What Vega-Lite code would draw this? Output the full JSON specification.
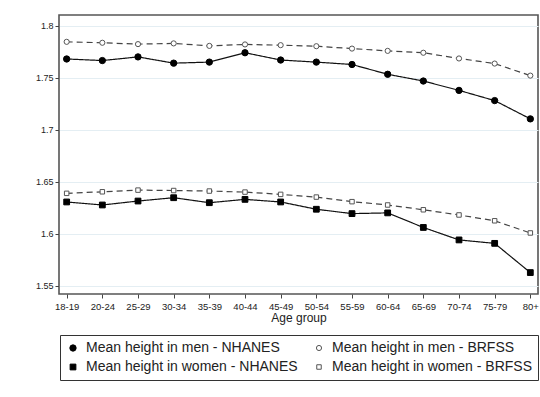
{
  "$schema": "https://vega.github.io/schema/vega-lite/v6.json",
  "width": 479,
  "height": 279,
  "autosize": {"type": "none"},
  "padding": {"left": 59, "top": 15, "right": 2, "bottom": 103},
  "background": "white",
  "config": {
    "font": "Liberation Sans",
    "view": {"stroke": "#555", "strokeWidth": 1.6},
    "axis": {"labelColor": "#222", "titleColor": "#222", "tickColor": "#444", "domain": false}
  },
  "data": {
    "values": [
      {"age": "18-19", "source": "NHANES", "series": "Mean height in men - NHANES", "height": 1.768},
      {"age": "20-24", "source": "NHANES", "series": "Mean height in men - NHANES", "height": 1.7665},
      {"age": "25-29", "source": "NHANES", "series": "Mean height in men - NHANES", "height": 1.770},
      {"age": "30-34", "source": "NHANES", "series": "Mean height in men - NHANES", "height": 1.764},
      {"age": "35-39", "source": "NHANES", "series": "Mean height in men - NHANES", "height": 1.765},
      {"age": "40-44", "source": "NHANES", "series": "Mean height in men - NHANES", "height": 1.774},
      {"age": "45-49", "source": "NHANES", "series": "Mean height in men - NHANES", "height": 1.767},
      {"age": "50-54", "source": "NHANES", "series": "Mean height in men - NHANES", "height": 1.765},
      {"age": "55-59", "source": "NHANES", "series": "Mean height in men - NHANES", "height": 1.7627},
      {"age": "60-64", "source": "NHANES", "series": "Mean height in men - NHANES", "height": 1.7533},
      {"age": "65-69", "source": "NHANES", "series": "Mean height in men - NHANES", "height": 1.7468},
      {"age": "70-74", "source": "NHANES", "series": "Mean height in men - NHANES", "height": 1.7378},
      {"age": "75-79", "source": "NHANES", "series": "Mean height in men - NHANES", "height": 1.728},
      {"age": "80+", "source": "NHANES", "series": "Mean height in men - NHANES", "height": 1.7104},
      {"age": "18-19", "source": "BRFSS", "series": "Mean height in men - BRFSS", "height": 1.7845},
      {"age": "20-24", "source": "BRFSS", "series": "Mean height in men - BRFSS", "height": 1.7836},
      {"age": "25-29", "source": "BRFSS", "series": "Mean height in men - BRFSS", "height": 1.7823},
      {"age": "30-34", "source": "BRFSS", "series": "Mean height in men - BRFSS", "height": 1.783},
      {"age": "35-39", "source": "BRFSS", "series": "Mean height in men - BRFSS", "height": 1.7806},
      {"age": "40-44", "source": "BRFSS", "series": "Mean height in men - BRFSS", "height": 1.782},
      {"age": "45-49", "source": "BRFSS", "series": "Mean height in men - BRFSS", "height": 1.7813},
      {"age": "50-54", "source": "BRFSS", "series": "Mean height in men - BRFSS", "height": 1.7803},
      {"age": "55-59", "source": "BRFSS", "series": "Mean height in men - BRFSS", "height": 1.778},
      {"age": "60-64", "source": "BRFSS", "series": "Mean height in men - BRFSS", "height": 1.7758},
      {"age": "65-69", "source": "BRFSS", "series": "Mean height in men - BRFSS", "height": 1.774},
      {"age": "70-74", "source": "BRFSS", "series": "Mean height in men - BRFSS", "height": 1.7685},
      {"age": "75-79", "source": "BRFSS", "series": "Mean height in men - BRFSS", "height": 1.7636},
      {"age": "80+", "source": "BRFSS", "series": "Mean height in men - BRFSS", "height": 1.752},
      {"age": "18-19", "source": "NHANES", "series": "Mean height in women - NHANES", "height": 1.6305},
      {"age": "20-24", "source": "NHANES", "series": "Mean height in women - NHANES", "height": 1.6276},
      {"age": "25-29", "source": "NHANES", "series": "Mean height in women - NHANES", "height": 1.6314},
      {"age": "30-34", "source": "NHANES", "series": "Mean height in women - NHANES", "height": 1.6346},
      {"age": "35-39", "source": "NHANES", "series": "Mean height in women - NHANES", "height": 1.6298},
      {"age": "40-44", "source": "NHANES", "series": "Mean height in women - NHANES", "height": 1.633},
      {"age": "45-49", "source": "NHANES", "series": "Mean height in women - NHANES", "height": 1.6305},
      {"age": "50-54", "source": "NHANES", "series": "Mean height in women - NHANES", "height": 1.6235},
      {"age": "55-59", "source": "NHANES", "series": "Mean height in women - NHANES", "height": 1.6193},
      {"age": "60-64", "source": "NHANES", "series": "Mean height in women - NHANES", "height": 1.620},
      {"age": "65-69", "source": "NHANES", "series": "Mean height in women - NHANES", "height": 1.606},
      {"age": "70-74", "source": "NHANES", "series": "Mean height in women - NHANES", "height": 1.594},
      {"age": "75-79", "source": "NHANES", "series": "Mean height in women - NHANES", "height": 1.5907},
      {"age": "80+", "source": "NHANES", "series": "Mean height in women - NHANES", "height": 1.5626},
      {"age": "18-19", "source": "BRFSS", "series": "Mean height in women - BRFSS", "height": 1.6388},
      {"age": "20-24", "source": "BRFSS", "series": "Mean height in women - BRFSS", "height": 1.6403},
      {"age": "25-29", "source": "BRFSS", "series": "Mean height in women - BRFSS", "height": 1.6419},
      {"age": "30-34", "source": "BRFSS", "series": "Mean height in women - BRFSS", "height": 1.6415},
      {"age": "35-39", "source": "BRFSS", "series": "Mean height in women - BRFSS", "height": 1.641},
      {"age": "40-44", "source": "BRFSS", "series": "Mean height in women - BRFSS", "height": 1.640},
      {"age": "45-49", "source": "BRFSS", "series": "Mean height in women - BRFSS", "height": 1.6378},
      {"age": "50-54", "source": "BRFSS", "series": "Mean height in women - BRFSS", "height": 1.6352},
      {"age": "55-59", "source": "BRFSS", "series": "Mean height in women - BRFSS", "height": 1.6308},
      {"age": "60-64", "source": "BRFSS", "series": "Mean height in women - BRFSS", "height": 1.6276},
      {"age": "65-69", "source": "BRFSS", "series": "Mean height in women - BRFSS", "height": 1.623},
      {"age": "70-74", "source": "BRFSS", "series": "Mean height in women - BRFSS", "height": 1.618},
      {"age": "75-79", "source": "BRFSS", "series": "Mean height in women - BRFSS", "height": 1.6124},
      {"age": "80+", "source": "BRFSS", "series": "Mean height in women - BRFSS", "height": 1.6007}
    ]
  },
  "encoding": {
    "x": {
      "field": "age", "type": "ordinal", "sort": null,
      "scale": {"type": "point", "padding": 0.215},
      "axis": {"title": "Age group", "labelAngle": 0, "labelFontSize": 9.5, "titleFontSize": 12, "titleFontWeight": "normal", "titlePadding": 2, "tickSize": 4, "labelPadding": 3, "grid": false}
    },
    "y": {
      "field": "height", "type": "quantitative",
      "scale": {"domain": [1.542, 1.8103], "nice": false, "zero": false},
      "axis": {"title": null, "values": [1.55, 1.6, 1.65, 1.7, 1.75, 1.8], "format": "~g", "labelFontSize": 9, "tickSize": 4, "labelPadding": 2, "grid": true, "gridColor": "#e4eef3", "gridWidth": 1}
    }
  },
  "layer": [
    {
      "mark": {"type": "line", "strokeWidth": 1.2},
      "encoding": {
        "detail": {"field": "series"},
        "color": {
          "field": "source", "legend": null,
          "scale": {"domain": ["NHANES", "BRFSS"], "range": ["#111111", "#444444"]}
        },
        "strokeDash": {
          "field": "source", "legend": null,
          "scale": {"domain": ["NHANES", "BRFSS"], "range": [[1, 0], [6, 4]]}
        }
      }
    },
    {
      "mark": {"type": "point", "opacity": 1, "strokeWidth": 1},
      "encoding": {
        "shape": {
          "field": "series", "title": null,
          "scale": {"domain": ["Mean height in men - NHANES", "Mean height in women - NHANES", "Mean height in men - BRFSS", "Mean height in women - BRFSS"], "range": ["circle", "square", "circle", "square"]},
          "legend": {
            "orient": "none", "legendX": 1, "legendY": 320, "columns": 2, "direction": "vertical",
            "labelFontSize": 14, "labelColor": "#222", "labelLimit": 400, "columnPadding": 14, "rowPadding": 5,
            "padding": 6, "strokeColor": "#333", "fillColor": "white",
            "symbolStrokeWidth": 1, "labelOffset": 6
          }
        },
        "fill": {
          "field": "series", "title": null,
          "scale": {"domain": ["Mean height in men - NHANES", "Mean height in women - NHANES", "Mean height in men - BRFSS", "Mean height in women - BRFSS"], "range": ["#000000", "#000000", "#ffffff", "#ffffff"]}
        },
        "stroke": {
          "field": "series", "title": null,
          "scale": {"domain": ["Mean height in men - NHANES", "Mean height in women - NHANES", "Mean height in men - BRFSS", "Mean height in women - BRFSS"], "range": ["#000000", "#000000", "#555555", "#555555"]}
        },
        "size": {
          "field": "series", "title": null,
          "scale": {"domain": ["Mean height in men - NHANES", "Mean height in women - NHANES", "Mean height in men - BRFSS", "Mean height in women - BRFSS"], "range": [40, 20, 28, 30]}
        }
      }
    }
  ]
}
